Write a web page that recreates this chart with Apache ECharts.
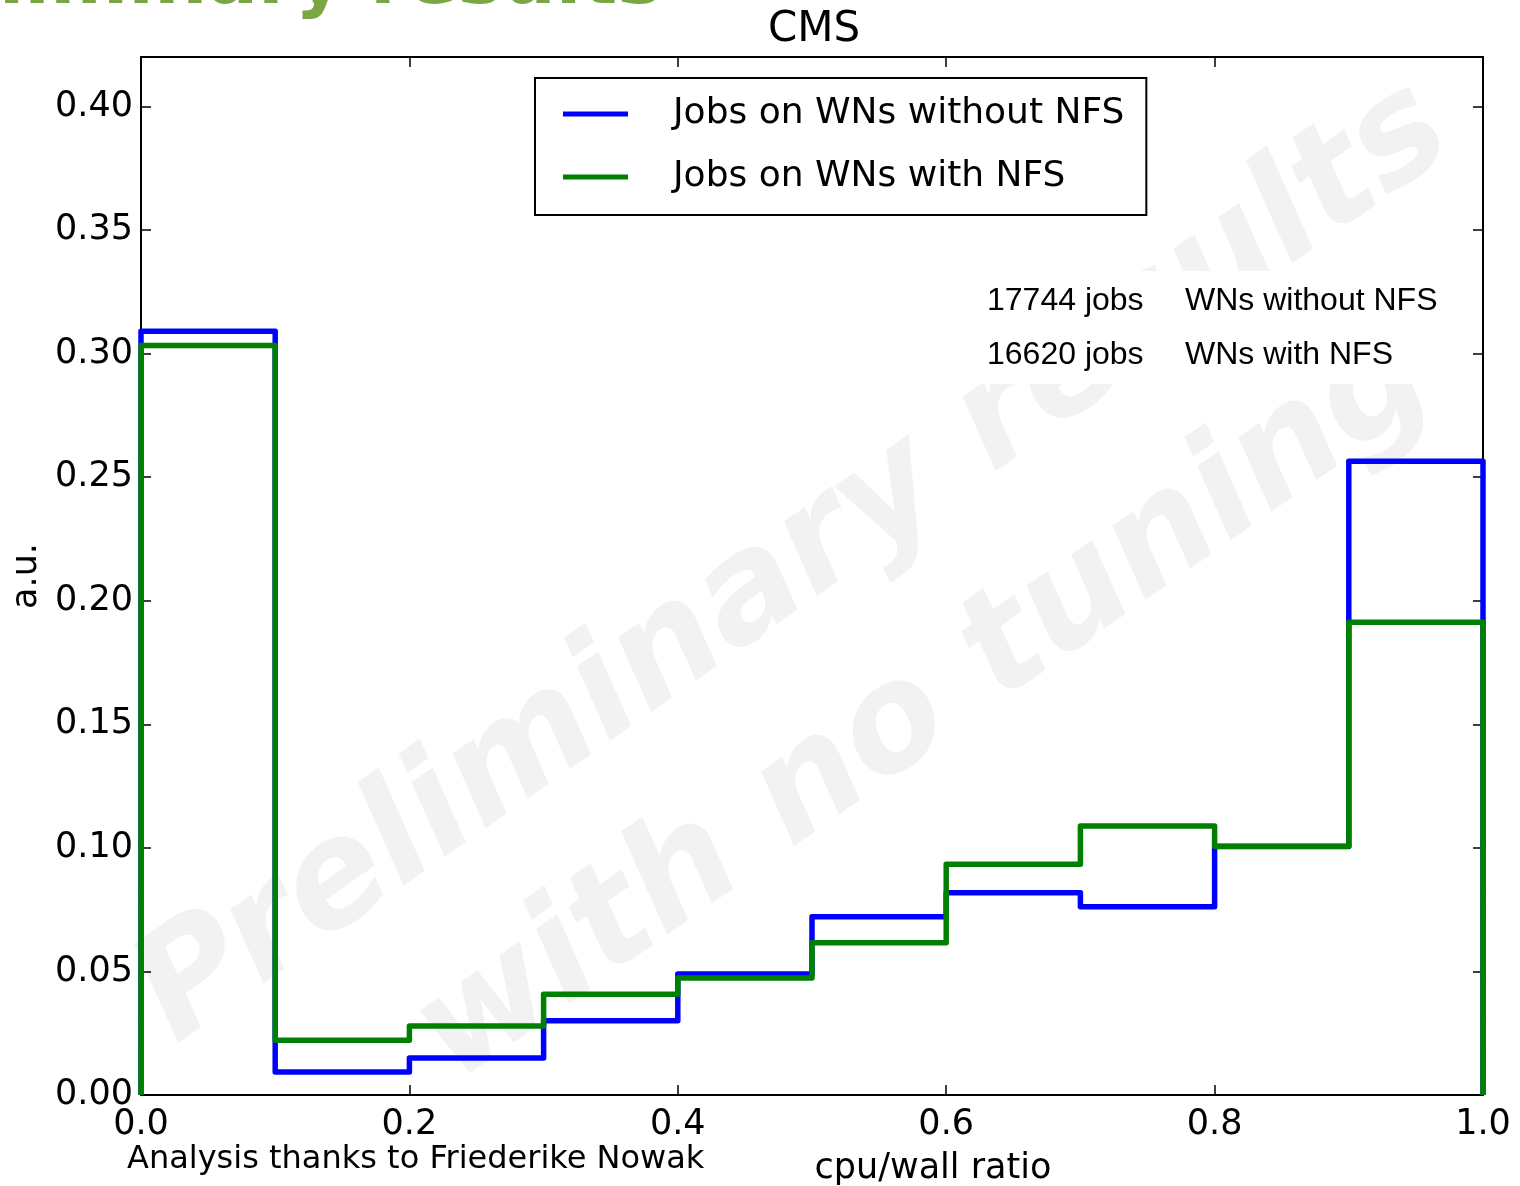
<!DOCTYPE html>
<html>
<head>
<meta charset="utf-8">
<script src="https://cdn.jsdelivr.net/npm/echarts@6/dist/echarts.min.js"></script>
<style>
html,body{margin:0;padding:0;background:#fff;}
#chart{width:1520px;height:1186px;}
</style>
</head>
<body>
<div id="chart"></div>
<script>
// ---- data ----
const binEdges = [0.0, 0.1, 0.2, 0.3, 0.4, 0.5, 0.6, 0.7, 0.8, 0.9, 1.0];
const withoutNFS = [0.309, 0.0093, 0.015, 0.030, 0.049, 0.0721, 0.0818, 0.0762, 0.1005, 0.2564];
const withNFS    = [0.3033, 0.0222, 0.0279, 0.0408, 0.0473, 0.0616, 0.0934, 0.1088, 0.1007, 0.1913];
const seriesNames = ['Jobs on WNs without NFS', 'Jobs on WNs with NFS'];
const jobCounts = ['17744 jobs', '16620 jobs'];
const jobLabels = ['WNs without NFS', 'WNs with NFS'];
const xTicks = [0.0, 0.2, 0.4, 0.6, 0.8, 1.0];
const yTicks = [0.00, 0.05, 0.10, 0.15, 0.20, 0.25, 0.30, 0.35, 0.40];

// histogram outline built from bin edges (step 'end')
function histPoints(vals) {
  const pts = [[binEdges[0], 0]];
  for (let i = 0; i < vals.length; i++) pts.push([binEdges[i], vals[i]]);
  pts.push([binEdges[binEdges.length - 1], vals[vals.length - 1]]);
  pts.push([binEdges[binEdges.length - 1], 0]);
  return pts;
}

const FONT = 'DejaVu Sans';
const chart = echarts.init(document.getElementById('chart'), null, {renderer: 'canvas'});

const yFmt = v => yTicks.some(t => Math.abs(t - v) < 1e-9) ? v.toFixed(2) : '';
const xFmt = v => xTicks.some(t => Math.abs(t - v) < 1e-9) ? v.toFixed(1) : '';

const axisLine = {show: true, onZero: false, lineStyle: {color: '#000', width: 2}};
const tick = {show: true, inside: true, length: 10, lineStyle: {color: '#000', width: 1.5}};

chart.setOption({
  backgroundColor: '#fff',
  animation: false,
  title: {
    text: 'CMS', left: 809, top: 4, textAlign: 'center',
    textStyle: {fontFamily: FONT, fontSize: 42, fontWeight: 'normal', color: '#000'}
  },
  grid: {left: 141, right: 37, top: 57, bottom: 91, containLabel: false, outerBoundsMode: 'none'},
  legend: {
    orient: 'vertical', left: 535, top: 78,
    padding: [16, 22, 18, 28],
    itemGap: 23, itemWidth: 65, itemHeight: 5, icon: 'rect',
    borderColor: '#000', borderWidth: 2, borderRadius: 0,
    backgroundColor: '#fff',
    textStyle: {fontFamily: FONT, fontSize: 36, color: '#000', lineHeight: 40, padding: [0, 0, 0, 40]},
    data: seriesNames
  },
  xAxis: [
    {
      type: 'value', min: 0, max: 1, interval: 0.2, position: 'bottom',
      name: 'cpu/wall ratio', nameLocation: 'middle', nameGap: 56,
      nameTextStyle: {fontFamily: FONT, fontSize: 35, color: '#000', padding: [0, 0, 0, 242]},
      axisLine: axisLine, axisTick: tick, splitLine: {show: false},
      axisLabel: {fontFamily: FONT, fontSize: 35, color: '#000', margin: 12, formatter: xFmt}
    },
    {
      type: 'value', min: 0, max: 1, interval: 0.2, position: 'top',
      axisLine: axisLine, axisTick: tick, splitLine: {show: false},
      axisLabel: {show: false}
    }
  ],
  yAxis: [
    {
      type: 'value', min: 0, max: 0.42, interval: 0.05, position: 'left',
      name: 'a.u.', nameLocation: 'middle', nameGap: 94, nameRotate: 90,
      nameTextStyle: {fontFamily: FONT, fontSize: 35, color: '#000'},
      axisLine: axisLine, axisTick: tick, splitLine: {show: false},
      axisLabel: {fontFamily: FONT, fontSize: 35, color: '#000', margin: 8, formatter: yFmt, showMaxLabel: false}
    },
    {
      type: 'value', min: 0, max: 0.42, interval: 0.05, position: 'right',
      axisLine: axisLine, axisTick: tick, splitLine: {show: false},
      axisLabel: {show: false}
    }
  ],
  series: [
    {
      name: seriesNames[0], type: 'line', step: 'end', xAxisIndex: 0, yAxisIndex: 0,
      data: histPoints(withoutNFS), showSymbol: false, symbol: 'none', clip: true, z: 3,
      lineStyle: {color: '#0000ff', width: 5.5, join: 'round'}, itemStyle: {color: '#0000ff'}
    },
    {
      name: seriesNames[1], type: 'line', step: 'end', xAxisIndex: 0, yAxisIndex: 0,
      data: histPoints(withNFS), showSymbol: false, symbol: 'none', clip: true, z: 4,
      lineStyle: {color: '#008000', width: 5.5, join: 'round'}, itemStyle: {color: '#008000'}
    }
  ],
  graphic: [
    {
      type: 'text', x: 795, y: 565, rotation: 35 * Math.PI / 180, z: -10, silent: true,
      style: {text: 'Preliminary results', fill: '#f2f2f2', font: 'italic bold 146px "DejaVu Sans"',
              align: 'center', verticalAlign: 'middle'}
    },
    {
      type: 'text', x: 925, y: 708, rotation: 35 * Math.PI / 180, z: -10, silent: true,
      style: {text: 'with no tuning', fill: '#f2f2f2', font: 'italic bold 146px "DejaVu Sans"',
              align: 'center', verticalAlign: 'middle'}
    },
    {
      type: 'rect', z: -5, silent: true,
      shape: {x: 972, y: 271, width: 478, height: 113},
      style: {fill: '#fff'}
    },
    {
      type: 'text', x: 662, y: -16, z: 10, silent: true,
      style: {text: 'Preliminary results', fill: '#7ba645', font: 'bold 75px "DejaVu Sans"',
              align: 'right', verticalAlign: 'middle'}
    },
    {
      type: 'text', x: 987, y: 301, z: 10,
      style: {text: jobCounts[0], fill: '#000', font: '32px "Liberation Sans"', align: 'left', verticalAlign: 'middle'}
    },
    {
      type: 'text', x: 1185, y: 301, z: 10,
      style: {text: jobLabels[0], fill: '#000', font: '32px "Liberation Sans"', align: 'left', verticalAlign: 'middle'}
    },
    {
      type: 'text', x: 987, y: 355, z: 10,
      style: {text: jobCounts[1], fill: '#000', font: '32px "Liberation Sans"', align: 'left', verticalAlign: 'middle'}
    },
    {
      type: 'text', x: 1185, y: 355, z: 10,
      style: {text: jobLabels[1], fill: '#000', font: '32px "Liberation Sans"', align: 'left', verticalAlign: 'middle'}
    },
    {
      type: 'text', x: 127, y: 1160, z: 10,
      style: {text: 'Analysis thanks to Friederike Nowak', fill: '#000', font: '32px "DejaVu Sans"', align: 'left', verticalAlign: 'middle'}
    }
  ]
});
</script>
</body>
</html>
